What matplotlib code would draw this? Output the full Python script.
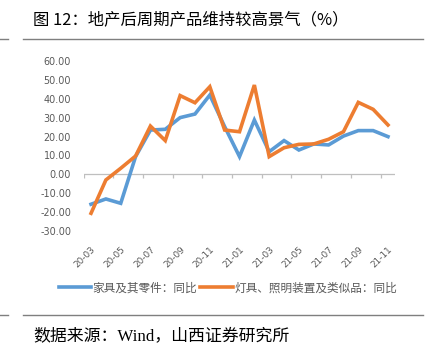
import matplotlib
matplotlib.use('Agg')
import matplotlib.pyplot as plt
from matplotlib.lines import Line2D

plt.rcParams['font.family'] = ['Noto Sans CJK SC', 'DejaVu Sans']

# 数据
months = ['20-03', '20-04', '20-05', '20-06', '20-07', '20-08', '20-09', '20-10', '20-11', '20-12',
          '21-01', '21-02', '21-03', '21-04', '21-05', '21-06', '21-07', '21-08', '21-09', '21-10', '21-11']
furniture = [-15.9, -13.1, -15.4, 9.4, 23.5, 23.9, 30.1, 32.0, 42.1, 25.3,
             9.4, 28.8, 12.0, 17.9, 12.9, 16.1, 15.6, 20.3, 23.2, 23.2, 20.0]
lighting = [-20.7, -3.0, 3.2, 9.7, 25.6, 17.9, 41.8, 38.0, 46.5, 23.5,
            22.6, 47.4, 9.4, 14.1, 15.9, 16.1, 18.6, 22.6, 38.2, 34.5, 26.2]
y_ticks = [-30, -20, -10, 0, 10, 20, 30, 40, 50, 60]
names = ['家具及其零件：同比', '灯具、照明装置及类似品：同比']

blue = '#5B9BD5'
orange = '#ED7D31'
gray_txt = '#595959'

fig = plt.figure(figsize=(4.29, 3.53), dpi=100)
ax = fig.add_axes([0.1949, 0.3462, 0.7268, 0.4801])

x = list(range(len(months)))
ax.plot(x, furniture, color=blue, lw=2.6, label=names[0], solid_joinstyle='miter')
ax.plot(x, lighting, color=orange, lw=2.6, label=names[1], solid_joinstyle='miter')

ax.set_xlim(-0.5, len(months) - 0.5)
ax.set_ylim(-30, 60)

# 零轴和刻度线
ax.axhline(0, color='#BFBFBF', lw=0.9, zorder=0)
ax.vlines([i - 0.5 for i in range(0, len(months), 2)], -2.2, 0, color='#BFBFBF', lw=0.9, zorder=0)

for s in ax.spines.values():
    s.set_visible(False)

ax.set_yticks(y_ticks)
ax.set_yticklabels([f'{v:.2f}' for v in y_ticks])
ax.tick_params(axis='y', length=0, pad=9, labelsize=6.9, labelcolor=gray_txt)
for lab in ax.get_yticklabels():
    lab.set_family(['DejaVu Sans'])

ax.set_xticks(x[::2])
ax.set_xticklabels(months[::2], rotation=45, ha='right', va='top', rotation_mode='anchor')
ax.tick_params(axis='x', length=0, pad=10, labelsize=6.4, labelcolor=gray_txt)
for lab in ax.get_xticklabels():
    lab.set_family(['DejaVu Sans'])

fig.legend(loc='center', bbox_to_anchor=(0.531, 0.184), ncol=2, frameon=False,
           fontsize=8.4, labelcolor=gray_txt, handlelength=2.8, handletextpad=0.1,
           columnspacing=0.3)

# 标题、来源、分隔线
fig.text(0.077, 1 - 20 / 353, '图 12：地产后周期产品维持较高景气（%）', fontsize=11.8,
         va='center', ha='left', color='black')
fig.text(0.077, 1 - 336 / 353, '数据来源：Wind，山西证券研究所', fontsize=12.2,
         va='center', ha='left', color='black', family=['Liberation Serif', 'Noto Sans CJK SC'])

for yy in [1 - 39 / 353, 1 - 315 / 353]:
    fig.add_artist(Line2D([0.054, 0.985], [yy, yy], color='#7F7F7F', lw=1.0))
    fig.add_artist(Line2D([0.0, 0.019], [yy, yy], color='#7F7F7F', lw=1.0))

fig.savefig('out.png', dpi=100)
